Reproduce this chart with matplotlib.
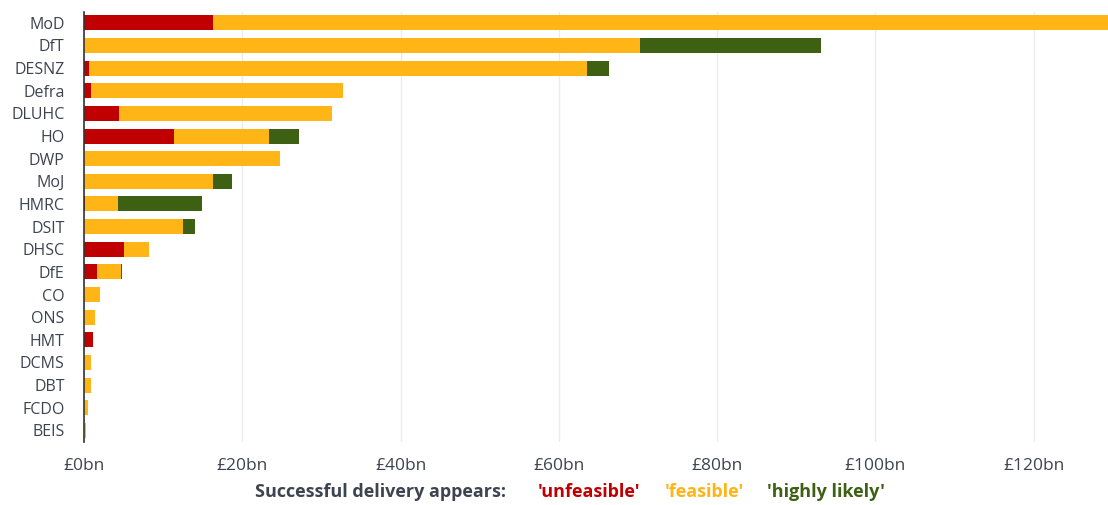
import matplotlib
matplotlib.use('Agg')
import matplotlib.pyplot as plt
import numpy as np

# 部門與各類別金額 (十億英鎊)
depts = ['MoD', 'DfT', 'DESNZ', 'Defra', 'DLUHC', 'HO', 'DWP', 'MoJ', 'HMRC', 'DSIT',
         'DHSC', 'DfE', 'CO', 'ONS', 'HMT', 'DCMS', 'DBT', 'FCDO', 'BEIS']
unfeasible = [16.3, 0.0, 0.6, 0.85, 4.4, 11.4, 0.0, 0.0, 0.15, 0.0,
              5.0, 1.6, 0.0, 0.0, 1.1, 0.0, 0.0, 0.0, 0.0]
feasible = [113.2, 70.3, 63.0, 31.85, 26.9, 12.0, 24.8, 16.3, 4.15, 12.55,
            3.2, 3.1, 2.0, 1.35, 0.0, 0.93, 0.9, 0.55, 0.3]
highly_likely = [0.0, 22.8, 2.7, 0.0, 0.0, 3.8, 0.0, 2.45, 10.6, 1.45,
                 0.0, 0.12, 0.0, 0.0, 0.0, 0.0, 0.0, 0.0, 0.0]
xticks = [0, 20, 40, 60, 80, 100, 120]
xtick_labels = ['£0bn', '£20bn', '£40bn', '£60bn', '£80bn', '£100bn', '£120bn']

colors = ['#c00000', '#feb515', '#3d6012']
text_color = '#3d4450'

plt.rcParams['font.family'] = ['Open Sans', 'DejaVu Sans']

fig = plt.figure(figsize=(11.08, 5.05), dpi=100)
ax = fig.add_axes([84 / 1108, 1 - 441.7 / 505, 1 - 84 / 1108, (441.7 - 11.5) / 505])

y = np.arange(len(depts))
u = np.array(unfeasible)
f = np.array(feasible)
h = np.array(highly_likely)
bh = 0.66
ax.barh(y, u, height=bh, color=colors[0], zorder=3)
ax.barh(y, f, left=u, height=bh, color=colors[1], zorder=3)
ax.barh(y, h, left=u + f, height=bh, color=colors[2], zorder=3)

ax.set_ylim(len(depts) - 0.5, -0.5)
ax.set_xlim(0, 129.4)
ax.set_yticks(y)
ax.set_yticklabels(depts, fontsize=11.5, color=text_color)
ax.set_xticks(xticks)
ax.set_xticklabels(xtick_labels, fontsize=12.5, color=text_color)
ax.tick_params(axis='y', length=0, pad=14)
ax.tick_params(axis='x', length=0, pad=12)
ax.grid(True, axis='x', color='#ebebeb', linewidth=1, zorder=0)
for s in ['top', 'right', 'bottom']:
    ax.spines[s].set_visible(False)
ax.spines['left'].set_color('#333333')
ax.spines['left'].set_linewidth(1.2)
ax.spines['left'].set_zorder(4)

# 圖例文字
ly = 1 - 492 / 505
fig.text(255 / 1108, ly, 'Successful delivery appears:', fontsize=13, fontweight='bold',
         color=text_color, ha='left', va='center')
fig.text(538 / 1108, ly, "'unfeasible'", fontsize=13, fontweight='bold',
         color=colors[0], ha='left', va='center')
fig.text(665 / 1108, ly, "'feasible'", fontsize=13, fontweight='bold',
         color=colors[1], ha='left', va='center')
fig.text(767 / 1108, ly, "'highly likely'", fontsize=13, fontweight='bold',
         color=colors[2], ha='left', va='center')

fig.savefig('out.png', dpi=100)
